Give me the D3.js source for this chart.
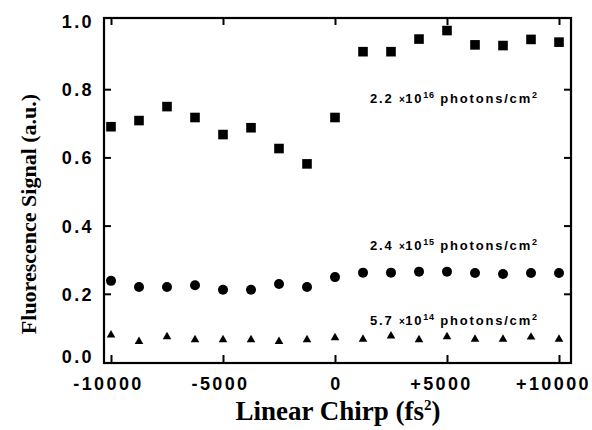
<!DOCTYPE html>
<html>
<head>
<meta charset="utf-8">
<script src="https://cdn.jsdelivr.net/npm/d3@7"></script>
<style>
  html, body { margin: 0; padding: 0; background: #fff; }
  svg { display: block; }
</style>
</head>
<body>
<svg id="chart" width="592" height="430"></svg>
<script>
// ---- data ----
const chirp = [-10000, -8750, -7500, -6250, -5000, -3750, -2500, -1250, 0,
               1250, 2500, 3750, 5000, 6250, 7500, 8750, 10000];
const highFluence = [0.690, 0.708, 0.749, 0.717, 0.667, 0.687, 0.626, 0.581, 0.717,
                     0.910, 0.910, 0.947, 0.972, 0.930, 0.928, 0.946, 0.938];
const midFluence  = [0.238, 0.220, 0.220, 0.225, 0.212, 0.212, 0.229, 0.220, 0.249,
                     0.262, 0.262, 0.265, 0.265, 0.261, 0.258, 0.261, 0.261];
const lowFluence  = [0.079, 0.060, 0.074, 0.065, 0.065, 0.065, 0.060, 0.065, 0.071,
                     0.067, 0.076, 0.065, 0.074, 0.067, 0.067, 0.073, 0.067];
const xTicks = [-10000, -5000, 0, 5000, 10000];
const xTickLabels = ["-10000", "-5000", "0", "+5000", "+10000"];
const yTicks = [0, 0.2, 0.4, 0.6, 0.8, 1.0];
const yTickLabels = ["0.0", "0.2", "0.4", "0.6", "0.8", "1.0"];
const fluenceMantissa = ["2.2", "2.4", "5.7"];
const fluenceExponent = ["16", "15", "14"];
const fluenceLabelY = [0.762, 0.331, 0.111];
const xTitle = "Linear Chirp (fs";
const yTitle = "Fluorescence Signal (a.u.)";

// ---- layout ----
const svg = d3.select("#chart");
const frame = {left: 104, right: 571, top: 18, bottom: 363};
const x = d3.scaleLinear().domain([-10000, 10000]).range([111, 559]);
const y = d3.scaleLinear().domain([0, 1]).range([362, 21]);

const tickFont = "'Liberation Sans', Arial, Helvetica, sans-serif";
const serif = "'Liberation Serif', 'Times New Roman', Times, serif";

// frame
svg.append("rect")
  .attr("x", frame.left).attr("y", frame.top)
  .attr("width", frame.right - frame.left).attr("height", frame.bottom - frame.top)
  .attr("fill", "none").attr("stroke", "#000").attr("stroke-width", 2.2);

function styleAxis(g) {
  g.select(".domain").remove();
  g.selectAll(".tick line").attr("stroke", "#000").attr("stroke-width", 2);
  g.selectAll(".tick text")
    .attr("fill", "#000")
    .style("font-family", tickFont)
    .style("font-weight", "bold")
    .style("font-size", "18px")
    .style("letter-spacing", "2.4px");
}

// bottom axis with labels
const xAxisB = svg.append("g")
  .attr("transform", `translate(0,${frame.bottom})`)
  .call(d3.axisBottom(x).tickValues(xTicks)
        .tickFormat((d, i) => xTickLabels[i])
        .tickSizeInner(-8).tickSizeOuter(0).tickPadding(14));
styleAxis(xAxisB);
xAxisB.selectAll(".tick text").attr("dx", (d) => d < 0 ? "-3" : (d > 0 ? "-6" : "1"));

// top axis (ticks only)
const xAxisT = svg.append("g")
  .attr("transform", `translate(0,${frame.top})`)
  .call(d3.axisTop(x).tickValues(xTicks).tickFormat("")
        .tickSizeInner(-7).tickSizeOuter(0));
styleAxis(xAxisT);

// left axis with labels
const yAxisL = svg.append("g")
  .attr("transform", `translate(${frame.left},0)`)
  .call(d3.axisLeft(y).tickValues(yTicks)
        .tickFormat((d, i) => yTickLabels[i])
        .tickSizeInner(-7).tickSizeOuter(0).tickPadding(10));
styleAxis(yAxisL);
yAxisL.selectAll(".tick text").attr("dy", (d) => d === 0 ? "0.05em" : "0.36em");
yAxisL.selectAll(".tick line").filter(d => d === 0 || d === 1).remove();

// right axis (ticks only)
const yAxisR = svg.append("g")
  .attr("transform", `translate(${frame.right},0)`)
  .call(d3.axisRight(y).tickValues(yTicks).tickFormat("")
        .tickSizeInner(-7).tickSizeOuter(0));
styleAxis(yAxisR);
yAxisR.selectAll(".tick line").filter(d => d === 0 || d === 1).remove();

// ---- markers ----
const pts = (vals) => chirp.map((c, i) => ({c, v: vals[i]}));

svg.append("g").selectAll("rect")
  .data(pts(highFluence)).join("rect")
  .attr("x", d => x(d.c) - 4.8).attr("y", d => y(d.v) - 4.8)
  .attr("width", 9.6).attr("height", 9.6).attr("fill", "#000");

svg.append("g").selectAll("circle")
  .data(pts(midFluence)).join("circle")
  .attr("cx", d => x(d.c)).attr("cy", d => y(d.v)).attr("r", 5)
  .attr("fill", "#000");

const tri = d3.symbol().type(d3.symbolTriangle).size(32);
svg.append("g").selectAll("path")
  .data(pts(lowFluence)).join("path")
  .attr("d", tri)
  .attr("transform", d => `translate(${x(d.c)},${y(d.v)})`)
  .attr("fill", "#000");

// ---- fluence labels ----
fluenceMantissa.forEach((m, i) => {
  const t = svg.append("text")
    .attr("x", 370).attr("y", y(fluenceLabelY[i]) + 1)
    .attr("fill", "#000")
    .style("font-family", tickFont)
    .style("font-weight", "bold")
    .style("font-size", "13px")
    .style("letter-spacing", "1.8px");
  t.append("tspan").text(m + " ");
  t.append("tspan").text("\u00d7").style("font-size", "10px").style("letter-spacing", "0.5px");
  t.append("tspan").text("10");
  t.append("tspan").text(fluenceExponent[i]).attr("dy", -5).style("font-size", "9px").style("letter-spacing", "0.8px");
  t.append("tspan").text(" photons/cm").attr("dy", 5);
  t.append("tspan").text("2").attr("dy", -5).style("font-size", "9px");
});

// ---- axis titles ----
const xt = svg.append("text")
  .attr("x", 338).attr("y", 420)
  .attr("text-anchor", "middle")
  .attr("fill", "#000")
  .style("font-family", serif)
  .style("font-weight", "bold")
  .style("font-size", "27px");
xt.append("tspan").text(xTitle);
xt.append("tspan").text("2").attr("dy", -10).style("font-size", "15px");
xt.append("tspan").text(")").attr("dy", 10);

svg.append("text")
  .attr("transform", "translate(36,214) rotate(-90)")
  .attr("text-anchor", "middle")
  .attr("fill", "#000")
  .style("font-family", serif)
  .style("font-weight", "bold")
  .style("font-size", "22px")
  .text(yTitle);
</script>
</body>
</html>
